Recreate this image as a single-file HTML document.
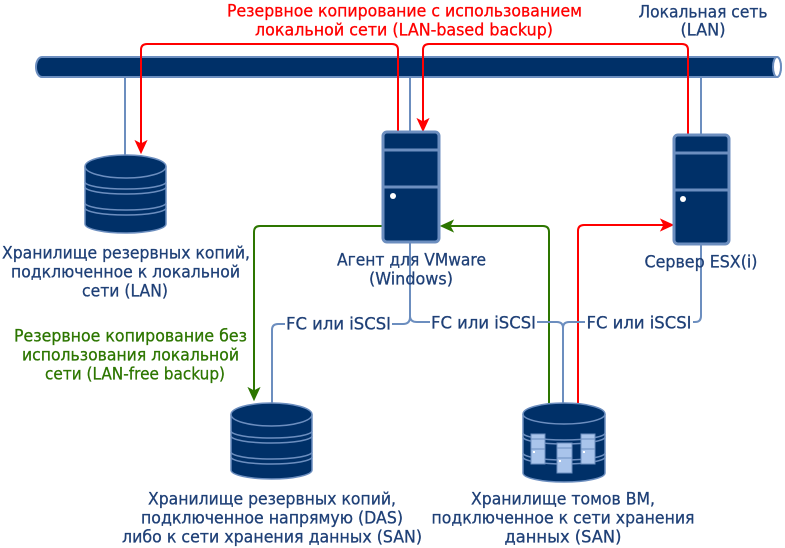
<!DOCTYPE html>
<html>
<head>
<meta charset="utf-8">
<style>
html,body{margin:0;padding:0;background:#fff;}
svg{display:block;}
text{font-family:"DejaVu Sans","Liberation Sans",sans-serif;font-size:17px;stroke-width:0.3px;}
.b{fill:#1f4077;stroke:#1f4077;}
.r{fill:#ff0000;stroke:#ff0000;}
.g{fill:#2d7600;stroke:#2d7600;}
</style>
</head>
<body>
<svg width="785" height="548" viewBox="0 0 785 548" xmlns="http://www.w3.org/2000/svg" font-size="17">
<rect width="785" height="548" fill="#fff"/>

<!-- blue drops from LAN pipe -->
<g stroke="#6c8ebf" stroke-width="2" fill="none">
  <line x1="125" y1="76" x2="125" y2="156"/>
  <line x1="410" y1="76" x2="410" y2="132"/>
  <line x1="701" y1="76" x2="701" y2="135"/>
</g>

<!-- LAN pipe -->
<path d="M42,57 L777,57 A4,10 0 0 1 777,77 L42,77 A6,10 0 0 1 42,57 Z" fill="#003068" stroke="#6c8ebf" stroke-width="2"/>
<ellipse cx="777" cy="67" rx="4" ry="10" fill="#fff" stroke="#6c8ebf" stroke-width="2"/>

<!-- red LAN-based connectors -->
<g stroke="#ff0000" stroke-width="2" fill="none">
  <path d="M398,132 V50 Q398,44 392,44 H147 Q141,44 141,50 V144"/>
  <path d="M688,135 V50 Q688,44 682,44 H429 Q423,44 423,50 V122"/>
  <path d="M578,404 V231 Q578,225 584,225 H664"/>
</g>
<g fill="#ff0000" stroke="#ff0000" stroke-width="1">
  <polygon points="141,153 135.5,141 141,144 146.5,141"/>
  <polygon points="423,131 417.5,119 423,122 428.5,119"/>
  <polygon points="673,225 661,219.5 664,225 661,230.5"/>
</g>

<!-- green LAN-free connectors -->
<g stroke="#2d7600" stroke-width="2" fill="none">
  <path d="M383,226 H260 Q254,226 254,232 V391"/>
  <path d="M549,404 V232 Q549,226 543,226 H450"/>
</g>
<g fill="#2d7600" stroke="#2d7600" stroke-width="1">
  <polygon points="254,400 248.5,388 254,391 259.5,388"/>
  <polygon points="441,226 453,220.5 450,226 453,231.5"/>
</g>

<!-- blue FC/iSCSI connectors -->
<g stroke="#6c8ebf" stroke-width="2" fill="none">
  <path d="M410,243 V317 Q410,324 403,324 H278 Q272,324 272,330 V404"/>
  <path d="M410,316 Q410,322 417,322 H557 Q563,322 563,328 V404"/>
  <path d="M701,245 V316 Q701,322 695,322 H569 Q563,322 563,328"/>
</g>
<g fill="#fff">
  <rect x="285" y="314" width="107" height="19"/>
  <rect x="430" y="312" width="107" height="19"/>
  <rect x="585" y="312" width="108" height="19"/>
</g>
<text class="b" x="338.5" y="329.5" text-anchor="middle" textLength="105" lengthAdjust="spacingAndGlyphs">FC или iSCSI</text>
<text class="b" x="483.5" y="328.5" text-anchor="middle" textLength="105" lengthAdjust="spacingAndGlyphs">FC или iSCSI</text>
<text class="b" x="639" y="328.5" text-anchor="middle" textLength="105" lengthAdjust="spacingAndGlyphs">FC или iSCSI</text>

<!-- Agent server -->
<g stroke="#6c8ebf" stroke-width="3">
  <rect x="383" y="132" width="56" height="110" rx="4" fill="#003068"/>
  <line x1="383" y1="150" x2="439" y2="150"/>
  <line x1="383" y1="187" x2="439" y2="187"/>
</g>
<circle cx="393" cy="196" r="3" fill="#fff"/>

<!-- ESX server -->
<g stroke="#6c8ebf" stroke-width="3">
  <rect x="674" y="135" width="55" height="109" rx="4" fill="#003068"/>
  <line x1="674" y1="153" x2="729" y2="153"/>
  <line x1="674" y1="190" x2="729" y2="190"/>
</g>
<circle cx="683" cy="199" r="3" fill="#fff"/>

<!-- Cylinder 1 (LAN storage) -->
<g stroke="#6c8ebf" stroke-width="1.5" fill="none">
  <path d="M85,166.5 A40.5,11.5 0 0 1 166,166.5 V224 A40.5,9 0 0 1 85,224 Z" fill="#003068"/>
  <path d="M85,166.5 A40.5,11.5 0 0 0 166,166.5"/>
  <path d="M85,182 A40.5,7 0 0 0 166,182"/>
  <path d="M85,187 A40.5,7 0 0 0 166,187"/>
  <path d="M85,203 A40.5,7 0 0 0 166,203"/>
  <path d="M85,208 A40.5,7 0 0 0 166,208"/>
</g>

<!-- Cylinder 2 (DAS) -->
<g stroke="#6c8ebf" stroke-width="1.5" fill="none">
  <path d="M231,414.5 A40.5,11.5 0 0 1 312,414.5 V470 A40.5,9 0 0 1 231,470 Z" fill="#003068"/>
  <path d="M231,414.5 A40.5,11.5 0 0 0 312,414.5"/>
  <path d="M231,431 A40.5,7 0 0 0 312,431"/>
  <path d="M231,436 A40.5,7 0 0 0 312,436"/>
  <path d="M231,452 A40.5,7 0 0 0 312,452"/>
  <path d="M231,457 A40.5,7 0 0 0 312,457"/>
</g>

<!-- SAN storage -->
<g stroke="#6c8ebf" stroke-width="1.5" fill="none">
  <path d="M523,414 A41,11 0 0 1 605,414 V473 A41,9 0 0 1 523,473 Z" fill="#003068"/>
  <path d="M523,414 A41,10 0 0 0 605,414"/>
  <path d="M523,433 A41,7 0 0 0 605,433"/>
  <path d="M523,437 A41,7 0 0 0 605,437"/>
  <path d="M523,453 A41,7 0 0 0 605,453"/>
  <path d="M523,457 A41,7 0 0 0 605,457"/>
</g>
<g stroke="#6c8ebf" stroke-width="1" fill="#a9c4eb">
  <rect x="531" y="434" width="14" height="30"/>
  <line x1="531" y1="439" x2="545" y2="439"/>
  <line x1="531" y1="449" x2="545" y2="449"/>
  <rect x="557" y="443" width="15" height="30"/>
  <line x1="557" y1="448" x2="572" y2="448"/>
  <line x1="557" y1="458" x2="572" y2="458"/>
  <rect x="581" y="434" width="14" height="30"/>
  <line x1="581" y1="439" x2="595" y2="439"/>
  <line x1="581" y1="449" x2="595" y2="449"/>
</g>
<g fill="#fff">
  <rect x="533" y="451" width="2" height="2"/>
  <rect x="559" y="460" width="2" height="2"/>
  <rect x="583" y="451" width="2" height="2"/>
</g>

<!-- Labels -->
<text class="r" x="404.5" y="16.5" text-anchor="middle" textLength="355" lengthAdjust="spacingAndGlyphs">Резервное копирование с использованием</text>
<text class="r" x="404" y="35.5" text-anchor="middle" textLength="298" lengthAdjust="spacingAndGlyphs">локальной сети (LAN-based backup)</text>

<text class="b" x="703" y="17.5" text-anchor="middle" textLength="129" lengthAdjust="spacingAndGlyphs">Локальная сеть</text>
<text class="b" x="703" y="35.5" text-anchor="middle" textLength="45" lengthAdjust="spacingAndGlyphs">(LAN)</text>

<text class="b" x="126" y="258.5" text-anchor="middle" textLength="248" lengthAdjust="spacingAndGlyphs">Хранилище резервных копий,</text>
<text class="b" x="125.5" y="277.5" text-anchor="middle" textLength="229" lengthAdjust="spacingAndGlyphs">подключенное к локальной</text>
<text class="b" x="125" y="296.5" text-anchor="middle" textLength="86" lengthAdjust="spacingAndGlyphs">сети (LAN)</text>

<text class="g" x="130.5" y="341.5" text-anchor="middle" textLength="233" lengthAdjust="spacingAndGlyphs">Резервное копирование без</text>
<text class="g" x="130.5" y="360.5" text-anchor="middle" textLength="217" lengthAdjust="spacingAndGlyphs">использования локальной</text>
<text class="g" x="135" y="379.5" text-anchor="middle" textLength="180" lengthAdjust="spacingAndGlyphs">сети (LAN-free backup)</text>

<text class="b" x="411.5" y="265.5" text-anchor="middle" textLength="149" lengthAdjust="spacingAndGlyphs">Агент для VMware</text>
<text class="b" x="411" y="284.5" text-anchor="middle" textLength="84" lengthAdjust="spacingAndGlyphs">(Windows)</text>

<text class="b" x="701" y="267.5" text-anchor="middle" textLength="113" lengthAdjust="spacingAndGlyphs">Сервер ESX(i)</text>

<text class="b" x="272" y="504.5" text-anchor="middle" textLength="248" lengthAdjust="spacingAndGlyphs">Хранилище резервных копий,</text>
<text class="b" x="272" y="523.5" text-anchor="middle" textLength="262" lengthAdjust="spacingAndGlyphs">подключенное напрямую (DAS)</text>
<text class="b" x="272" y="542.5" text-anchor="middle" textLength="300" lengthAdjust="spacingAndGlyphs">либо к сети хранения данных (SAN)</text>

<text class="b" x="563" y="504.5" text-anchor="middle" textLength="184" lengthAdjust="spacingAndGlyphs">Хранилище томов ВМ,</text>
<text class="b" x="563" y="523.5" text-anchor="middle" textLength="263" lengthAdjust="spacingAndGlyphs">подключенное к сети хранения</text>
<text class="b" x="563" y="542.5" text-anchor="middle" textLength="117" lengthAdjust="spacingAndGlyphs">данных (SAN)</text>
</svg>
</body>
</html>
